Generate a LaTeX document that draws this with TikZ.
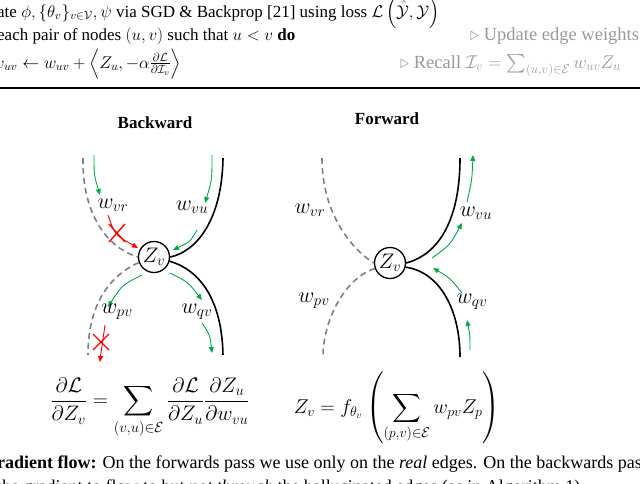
\RequirePackage{fix-cm}
\documentclass[tikz,border=0pt]{standalone}
\usepackage{amsmath,amssymb}
\usepackage{fontspec}
\setmainfont{Liberation Serif}
\usetikzlibrary{arrows.meta}
\definecolor{gr}{RGB}{0,170,70}
\definecolor{dg}{RGB}{128,128,128}
\tikzset{
 real/.style={line width=1.6pt,black},
 fake/.style={line width=1.6pt,dg,dash pattern=on 6pt off 4pt},
 flow/.style={gr,line width=0.9pt,-{Triangle[length=6pt,width=5pt]}},
 bad/.style={red,line width=0.9pt,-{Triangle[length=6pt,width=5pt]}},
 zn/.style={circle,draw,line width=1.3pt,minimum size=31pt,inner sep=0pt,font=\fontsize{21}{24}\selectfont},
 wl/.style={font=\fontsize{22}{26}\selectfont},
 txt/.style={font=\fontsize{17}{20}\selectfont,inner sep=0pt,anchor=base west},
 gtxt/.style={txt,text=dg!80},
 ctxt/.style={font=\fontsize{18}{22}\selectfont,inner sep=0pt,anchor=base west}
}
\begin{document}
\begin{tikzpicture}[x=1pt,y=-1pt]
\useasboundingbox (0,0) rectangle (640,483);
\clip (0,0) rectangle (640,483);
% header
\node[txt] (l1) at (-3,17) {ate $\phi,\{\theta_v\}_{v\in\mathcal{V}},\psi$ via SGD \& Backprop [21] using loss $\mathcal{L}\left(\hat{\mathcal{Y}},\mathcal{Y}\right)$};
\node[txt] (l2) at (-3,40) {each pair of nodes $(u,v)$ such that $u<v$ \textbf{do}};
\node[gtxt,font=\fontsize{18.5}{20}\selectfont] (c2) at (470,40) {$\triangleright$ Update edge weights};
\node[txt] (l3) at (-8,68) {$w_{uv}\leftarrow w_{uv}+\left\langle Z_u,-\alpha\frac{\partial\mathcal{L}}{\partial\mathcal{I}_v}\right\rangle$};
\node[gtxt,font=\fontsize{18.5}{20}\selectfont] (c3) at (400,68) {$\triangleright$ Recall $\mathcal{I}_v=\sum_{(u,v)\in\mathcal{E}}w_{uv}Z_u$};
\draw[line width=1.3pt] (0,88) -- (640,88);
% Backward
\node[font=\bfseries\fontsize{17}{20}\selectfont] (tb) at (155,123) {Backward};
\node[zn] (zb) at (154,257) {$Z_v$};
\draw[real] (223,158) .. controls (222,222) and (195,252) .. (zb.east);
\draw[real] (zb.-15) .. controls (200,270) and (222,300) .. (223,355);
\draw[fake] (83,158) .. controls (82,215) and (108,248) .. (zb.west);
\draw[fake] (zb.200) .. controls (105,278) and (88,310) .. (88,355);
\draw[flow] (94,155) .. controls (94,175) .. (100,195);
\draw[flow] (212,155) .. controls (212,180) .. (205,203);
\draw[flow] (197,230) .. controls (190,242) .. (173,250);
\draw[flow] (142,275) .. controls (122,285) .. (108,307);
\draw[flow] (170,273) .. controls (188,282) .. (202,300);
\draw[flow] (202,323) .. controls (210,335) .. (212,353);
\draw[bad] (108,215) .. controls (115,235) .. (138,248);
\draw[bad] (105,325) .. controls (102,340) .. (100,362);
\draw[red,line width=1.4pt] (109,224)--(125,242) (109,242)--(125,224) (93,334)--(109,350) (93,350)--(109,334);
\node[wl] (b1) at (113,205) {$w_{vr}$};
\node[wl] (b2) at (192,207) {$w_{vu}$};
\node[wl] (b3) at (117,312) {$w_{pv}$};
\node[wl] (b4) at (197,312) {$w_{qv}$};
% Forward
\node[font=\bfseries\fontsize{17}{20}\selectfont] (tf) at (387,119) {Forward};
\node[zn] (zf) at (390,263) {$Z_v$};
\draw[real] (460,158) .. controls (460,218) and (440,254) .. (zf.east);
\draw[real] (zf.-15) .. controls (440,272) and (460,310) .. (460,357);
\draw[fake] (322,158) .. controls (322,212) and (350,248) .. (zf.west);
\draw[fake] (zf.200) .. controls (345,278) and (323,320) .. (323,357);
\draw[flow] (467,202) .. controls (472,180) .. (473,155);
\draw[flow] (432,258) .. controls (450,245) .. (462,223);
\draw[flow] (462,293) .. controls (450,278) .. (433,268);
\draw[flow] (470,350) .. controls (470,335) .. (467,320);
\node[wl] (f1) at (310,210) {$w_{vr}$};
\node[wl] (f2) at (476,213) {$w_{vu}$};
\node[wl] (f3) at (314,301) {$w_{pv}$};
\node[wl] (f4) at (472,302) {$w_{qv}$};
% equations
\node[font=\fontsize{21}{24}\selectfont] (e1) at (150,408) {$\dfrac{\partial\mathcal{L}}{\partial Z_v}=\displaystyle\sum_{(v,u)\in\mathcal{E}}\dfrac{\partial\mathcal{L}}{\partial Z_u}\dfrac{\partial Z_u}{\partial w_{vu}}$};
\node[font=\fontsize{20}{24}\selectfont] (e2) at (397,408) {$Z_v=f_{\theta_v}\left(\displaystyle\sum_{(p,v)\in\mathcal{E}}w_{pv}Z_p\right)$};
% caption
\node[ctxt] (cap1) at (-3,468) {\textbf{radient flow:} On the forwards pass we use only on the \emph{real} edges. On the backwards pass};
\node[ctxt] (cap2) at (-3,492) {the gradient to flow to but \emph{not through} the hallucinated edges (as in Algorithm 1).};
\end{tikzpicture}
\end{document}
